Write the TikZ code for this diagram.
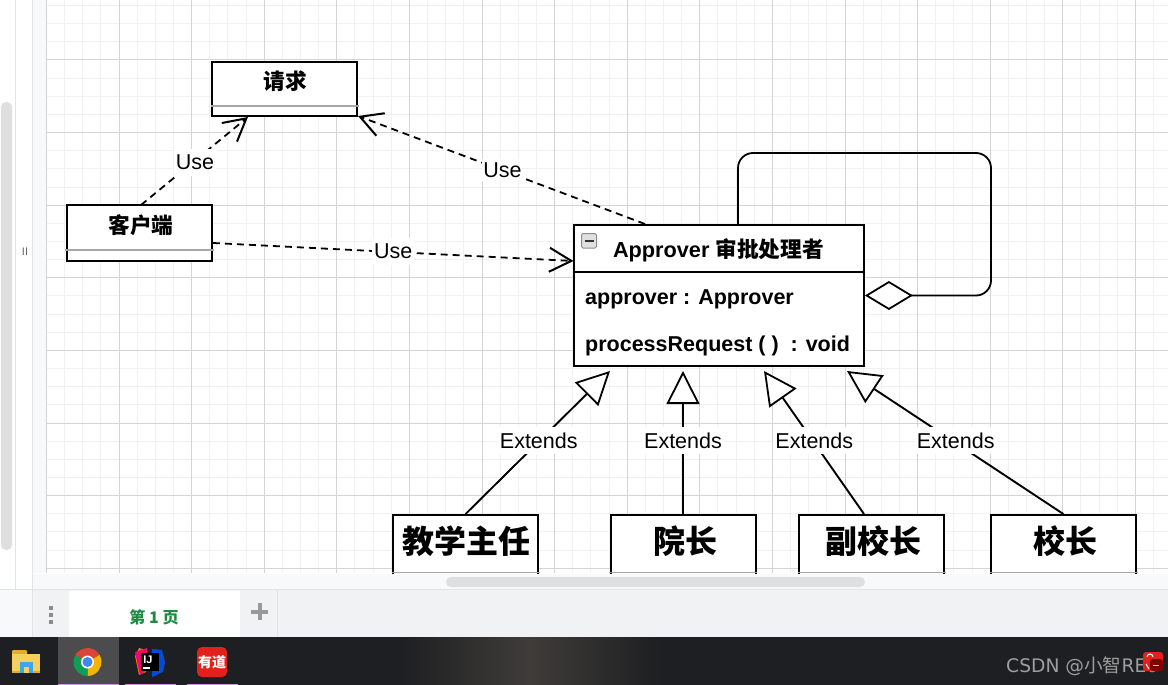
\documentclass[tikz,border=0pt]{standalone}
\usepackage{fontspec}
\setmainfont{Liberation Sans}
\newfontfamily\cjk{Noto Sans CJK SC}
\newfontfamily\markfont{DejaVu Sans}
\usetikzlibrary{arrows.meta}
\definecolor{gridmajor}{HTML}{D4D4D4}
\definecolor{gridminor}{HTML}{F1F1F1}
\definecolor{panelbg}{HTML}{F8F9FA}
\definecolor{tabbg}{HTML}{F1F2F4}
\definecolor{panelline}{HTML}{E2E3E5}
\definecolor{barbg}{HTML}{DFDFDF}
\definecolor{taskbg}{HTML}{1E1F22}
\definecolor{tasklight}{HTML}{3F3C39}
\definecolor{taskhover}{HTML}{4C4C4E}
\definecolor{taskpink}{HTML}{D493E8}
\definecolor{pagegreen}{HTML}{1E8A44}
\definecolor{iconred}{HTML}{DB4437}
\definecolor{iconyellow}{HTML}{F4B400}
\definecolor{icongreen}{HTML}{0F9D58}
\definecolor{iconblue}{HTML}{4285F4}
\definecolor{notesred}{HTML}{E2211C}
\definecolor{folderlight}{HTML}{F7CF5F}
\definecolor{folderdark}{HTML}{E8A92F}
\definecolor{folderblue}{HTML}{3FA7E8}
\tikzset{
  classbox/.style={draw=black,line width=1.8pt,fill=white,inner sep=0pt,minimum width=145pt},
  titletext/.style={inner sep=0pt,font=\fontsize{21.7}{24}\selectfont\bfseries},
  bigtext/.style={inner sep=0pt,font=\fontsize{32}{36}\selectfont\cjk\bfseries},
  membertext/.style={inner sep=0pt,anchor=west,font=\fontsize{21.5}{24}\selectfont\bfseries},
  edgelabel/.style={fill=white,inner sep=0pt,minimum height=27pt,minimum width=42pt,font=\fontsize{21.5}{24}\selectfont},
  extlabel/.style={edgelabel,minimum width=82pt},
  uses/.style={line width=1.8pt,dash pattern=on 7pt off 5pt,-{Straight Barb[length=22pt,width=24pt,line width=2pt]}},
  extends/.style={line width=1.9pt,-{Triangle[open,length=33pt,width=33pt,fill=white,line width=1.8pt]}},
  aggregates/.style={line width=1.8pt,rounded corners=15pt,-{Diamond[open,length=48pt,width=29pt,fill=white,line width=1.8pt]}},
  sepline/.style={line width=1.5pt,color=black!35}
}
\begin{document}
\begin{tikzpicture}[x=1pt,y=-1pt]
\useasboundingbox (0,0) rectangle (1168,685);
\fill[white] (0,0) rectangle (1168,685);

% Drawing grid
\begin{scope}
\clip (46,0) rectangle (1168,573);
\foreach \i in {0,...,62} {
  \draw[gridminor,line width=1pt] ({46.4+18.15*\i},0) -- ({46.4+18.15*\i},573);
}
\foreach \i in {0,...,32} {
  \draw[gridminor,line width=1pt] (46,{-12.6+18.15*\i}) -- (1168,{-12.6+18.15*\i});
}
\foreach \i in {0,...,15} {
  \draw[gridmajor,line width=1pt] ({46.4+72.6*\i},0) -- ({46.4+72.6*\i},573);
}
\foreach \i in {0,...,8} {
  \draw[gridmajor,line width=1pt] (46,{-12.6+72.6*\i}) -- (1168,{-12.6+72.6*\i});
}
\end{scope}

% Drawing class boxes
\node[classbox,minimum height=54pt] (request) at (284.5,89) {};
\node[classbox,minimum height=56pt] (client) at (139.5,233) {};
\node[classbox,minimum width=290pt,minimum height=141pt] (approver) at (719,295.5) {};
\node[classbox,minimum height=80pt] (director) at (465.5,555) {};
\node[classbox,minimum height=80pt] (dean) at (683.5,555) {};
\node[classbox,minimum height=80pt] (viceprincipal) at (871.5,555) {};
\node[classbox,minimum height=80pt] (principal) at (1063.5,555) {};

% Drawing separators
\draw[sepline] (211,106) -- (359,106);
\draw[sepline] (65,250) -- (214,250);
\draw[black,line width=1.8pt] (574,272) -- (864,272);
\foreach \i in {392,609,798,990} {
  \draw[sepline] (\i,572.5) -- ({\i+148},572.5);
}

% Drawing box titles
\node[titletext] (requesttext) at (285,81) {\cjk\bfseries 请求};
\node[titletext] (clienttext) at (141,225) {\cjk\bfseries 客户端};
\node[titletext] (approvertext) at (718.5,250) {Approver {\cjk\bfseries 审批处理者}};
\node[membertext] (field) at (585,299) {approver : Approver};
\node[membertext] (method) at (585,346) {processRequest ( ) \ : void};
\node[bigtext] (directortext) at (466,541) {教学主任};
\node[bigtext] (deantext) at (685,541) {院长};
\node[bigtext] (vicetext) at (873,541) {副校长};
\node[bigtext] (principaltext) at (1065,541) {校长};

% Marking collapse button
\draw[black!45,fill=black!12,rounded corners=1.5pt,line width=1pt] (581.5,233.5) rectangle (596.5,248);
\draw[black!80,line width=2pt] (584.5,240.5) -- (593.5,240.5);

% Drawing use connectors
\coordinate (usestart) at (141,205);
\coordinate (usetip) at (248,117);
\draw[uses] (usestart) -- node[edgelabel,pos=.495,yshift=-1pt,xshift=1pt] (uselabela) {Use} (usetip);
\coordinate (reqstart) at (645,224);
\coordinate (reqtip) at (358,116);
\draw[uses] (reqstart) -- node[edgelabel,pos=.497,minimum width=40pt,minimum height=22pt] (uselabelb) {Use} (reqtip);
\coordinate (callstart) at (213,243);
\coordinate (calltip) at (573.5,261);
\draw[uses] (callstart) -- node[edgelabel,pos=.5,yshift=1pt] (uselabelc) {Use} (calltip);

% Drawing self aggregation
\coordinate (loopstart) at (738,224.5);
\draw[aggregates] (loopstart) |- (991,153) |- (approver.east);

% Drawing extends connectors
\coordinate (tipa) at (610,371);
\coordinate (tipb) at (683,371);
\coordinate (tipc) at (764,371);
\coordinate (tipd) at (847,371);
\coordinate (deanstart) at (683,514);
\coordinate (vicestart) at (864,514);
\draw[extends] (director.north) -- node[extlabel,pos=.507,yshift=1pt] (extlabela) {Extends} (tipa);
\draw[extends] (deanstart) -- node[extlabel,pos=.507,yshift=1pt] (extlabelb) {Extends} (tipb);
\draw[extends] (vicestart) -- node[extlabel,pos=.507,yshift=1pt,xshift=1pt] (extlabelc) {Extends} (tipc);
\draw[extends] (principal.north) -- node[extlabel,pos=.507,yshift=1pt,xshift=2pt] (extlabeld) {Extends} (tipd);

% Drawing left panel and bottom bars
\fill[panelbg] (33,0) rectangle (46,573);
\fill[panelbg] (33,573.5) rectangle (1168,589);
\fill[tabbg] (33,589) rectangle (1168,637);
\fill[panelbg] (0,589) rectangle (33,637);
\draw[panelline,line width=1pt] (15.5,0) -- (15.5,589);
\draw[panelline,line width=1pt] (32.5,0) -- (32.5,637);
\draw[panelline,line width=1pt] (0,589) -- (1168,589);
\fill[barbg,rounded corners=5pt] (1,102) rectangle (12,550);
\fill[barbg,rounded corners=5pt] (446,577) rectangle (865,587);
\node[inner sep=0pt,text=black!60,font=\fontsize{11}{11}\selectfont] (rulermark) at (25,251.5) {II};

% Drawing sheet tab
\fill[white] (69,591) rectangle (240,637);
\draw[panelline,line width=1pt] (277.5,589) -- (277.5,637);
\node[inner sep=0pt,text=pagegreen,font=\fontsize{16}{18}\selectfont\cjk\bfseries] (pagetab) at (154,617) {第 1 页};
\foreach \i in {608,615,622} {
  \fill[black!45] (49,{\i-2}) rectangle (53,{\i+2});
}
\fill[black!40] (251,609.5) rectangle (268,613.5);
\fill[black!40] (257.5,603) rectangle (261.5,620);

% Drawing task bar
\fill[taskbg] (0,637) rectangle (1168,685);
\fill[left color=taskbg,right color=tasklight] (400,637) rectangle (530,685);
\fill[left color=tasklight,right color=taskbg] (530,637) rectangle (660,685);
\fill[taskhover] (58,637) rectangle (119,685);
\fill[taskpink] (58,683.5) rectangle (119,685);
\fill[taskpink] (125,683.5) rectangle (176,685);
\fill[taskpink] (187,683.5) rectangle (238,685);

% Drawing folder icon
\fill[folderdark,rounded corners=1pt] (12,650) rectangle (27,660);
\fill[folderlight] (12,654) rectangle (40,671);
\fill[folderdark] (12,671) rectangle (40,672.5);
\fill[folderblue] (20,662) rectangle (33,673);
\fill[folderlight] (24,667) rectangle (29,673);

% Drawing browser icon
\fill[iconred] (87.5,662) -- (75.4,655) arc (210:330:14) -- cycle;
\fill[iconyellow] (87.5,662) -- (99.6,655) arc (330:450:14) -- cycle;
\fill[icongreen] (87.5,662) -- (87.5,676) arc (90:210:14) -- cycle;
\fill[white] (87.5,662) circle (6.5);
\fill[iconblue] (87.5,662) circle (5);

% Drawing editor icon
\fill[orange!90!red] (135,656) -- (139,648) -- (146,650) -- (146,672) -- (139,675) -- cycle;
\fill[magenta!70!red] (135,652) -- (147,648) -- (150,668) -- (140,675) -- cycle;
\fill[blue!65!cyan!85!black] (152,649) -- (162,650) -- (165,662) -- (163,672) -- (152,677) -- cycle;
\fill[black] (141,653) rectangle (159,671);
\node[inner sep=0pt,text=white,font=\fontsize{11}{11}\selectfont\bfseries] (ideatext) at (148,659.5) {IJ};
\fill[white] (143,667) rectangle (150,668.5);

% Drawing notes icon
\fill[notesred,rounded corners=5pt] (197,647) rectangle (227,677);
\node[inner sep=0pt,text=white,font=\fontsize{14}{14}\selectfont\cjk\bfseries] (notestext) at (212,662) {有道};

% Marking watermark
\node[inner sep=0pt,anchor=west,text=black!38,font=\fontsize{18.7}{20}\selectfont\markfont] (watermark) at (1006,666) {CSDN @{\cjk 小智}RE0};
\fill[notesred,rounded corners=3pt] (1143,652) rectangle (1163,671);
\draw[white,line width=1pt] (1147,657) arc (180:360:3);
\draw[white,line width=1pt] (1146,664) -- (1149,669);
\fill[red!50!black,rounded corners=3pt] (1150,659) rectangle (1163,671);
\fill[white!70!red] (1153,664.5) rectangle (1159,666);
\end{tikzpicture}
\end{document}
